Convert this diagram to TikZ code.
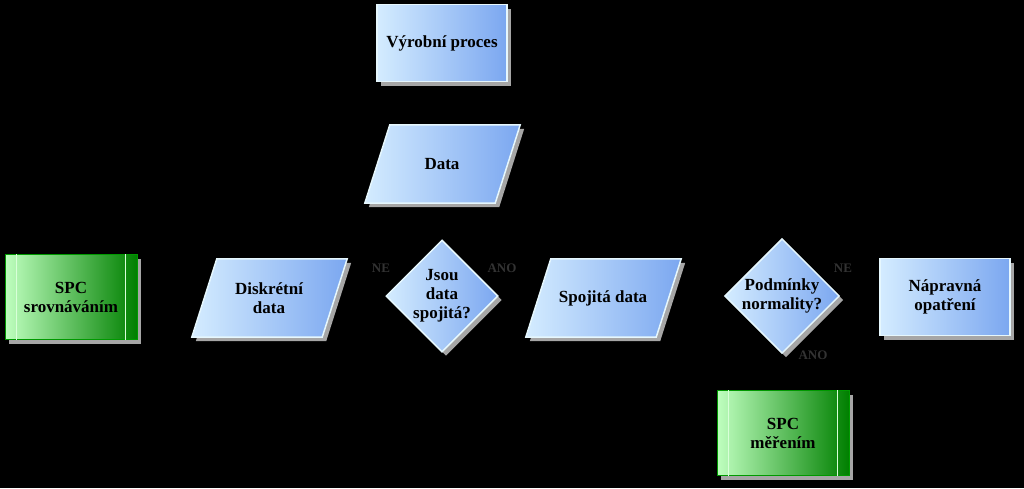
\documentclass[tikz,border=0pt]{standalone}
\usepackage{fontspec}
\setmainfont{Liberation Serif}
\usetikzlibrary{shapes.geometric,calc,shadows}
\pgfdeclarelayer{background}
\pgfsetlayers{background,main}
\definecolor{lb}{HTML}{D4ECFF}
\definecolor{db}{HTML}{7BA7F0}
\tikzset{
 blue/.style={left color=lb, right color=db, draw=cyan!10, line width=1.5pt},
 txt/.style={font=\bfseries\fontsize{17}{19}\selectfont, align=center, inner sep=0pt},
 shd/.style={drop shadow={shadow xshift=4pt, shadow yshift=-4pt, fill=gray!70, opacity=1}},
 rbox/.style={txt, minimum width=130pt, minimum height=77pt, blue, shd},
 dia/.style={txt, diamond, minimum width=112pt, minimum height=112pt, aspect=1, blue, shd},
 pbox/.style={txt, minimum width=130pt, minimum height=78pt},
 gbox/.style={txt, minimum width=132pt, minimum height=85pt, left color=green!25!white, right color=green!50!black, draw=green!60!black, line width=1pt, shd},
 con/.style={draw=gray!70!black, line width=0.8pt},
 lab/.style={font=\bfseries\fontsize{13}{15}\selectfont, text=gray!40!black}
}
\newcommand{\parashape}[1]{%
 \fill[gray!70] ($(#1.south west)+(4,4)$) -- ($(#1.south east)+(4,4)$) -- ($(#1.north east)+(25,0)+(4,4)$) -- ($(#1.north west)+(25,0)+(4,4)$) -- cycle;
 \shade[blue] ($(#1.south west)$) -- ($(#1.south east)$) -- ($(#1.north east)+(25,0)$) -- ($(#1.north west)+(25,0)$) -- cycle;}
\begin{document}
\begin{tikzpicture}[x=1pt,y=-1pt]
\fill[black] (0,0) rectangle (1024,488);
\useasboundingbox (0,0) rectangle (1024,488);
\node[pbox] (data) at (430,164) {};
\node[pbox] (disk) at (257,298) {};
\node[pbox] (spoj) at (591,298) {};
\parashape{data}\node[txt] at ($(data)+(12,0)$) {Data};
\parashape{disk}\node[txt] at ($(disk)+(12,0)$) {Diskrétní\\data};
\parashape{spoj}\node[txt] at ($(spoj)+(12,0)$) {Spojitá data};
\node[dia] (q1) at (442,296) {Jsou\\data\\spojitá?};
\node[dia] (q2) at (782,296) {Podmínky\\normality?};
\node[rbox] (vp) at (442,43) {Výrobní proces};
\node[rbox] (nap) at (945,297) {Nápravná\\opatření};
\node[gbox] (spc1) at (71,297) {SPC\\srovnáváním};
\node[gbox] (spc2) at (783,433) {SPC\\měřením};
\foreach \n in {spc1,spc2}{
 \draw[green!15!white, line width=1pt] ($(\n.north west)+(12,0)$) -- ($(\n.south west)+(12,0)$);
 \draw[green!15!white, line width=1pt] ($(\n.north east)+(-12,0)$) -- ($(\n.south east)+(-12,0)$);}
\begin{pgfonlayer}{background}
\draw[con] (vp) -- (q1);
\draw[con] (spc1) -- (q1);
\draw[con] (q1) -- (q2);
\draw[con] (q2) -- (nap);
\draw[con] (q2) -- (spc2);
\draw[con, rounded corners=6pt] (vp.east) -- (1020,43) -- (1020,296) -- (nap.east |- 0,296);
\end{pgfonlayer}
\node[lab] at (381,268) {NE};
\node[lab] at (502,268) {ANO};
\node[lab] at (843,268) {NE};
\node[lab] at (813,355) {ANO};
\end{tikzpicture}
\end{document}
